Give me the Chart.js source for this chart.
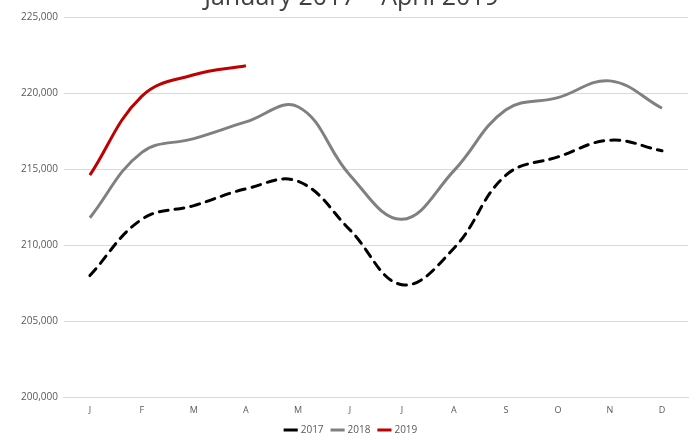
<!DOCTYPE html>
<html>
<head>
<meta charset="utf-8">
<script src="https://cdn.jsdelivr.net/npm/chart.js@4.4.1/dist/chart.umd.min.js"></script>
<style>
  html, body { margin: 0; padding: 0; background: #fff; overflow: hidden; }
  #wrap { position: absolute; left: 0; top: -22px; width: 692px; height: 467px; }
</style>
</head>
<body>
<div id="wrap"><canvas id="chart"></canvas></div>
<script>
const months = ["J", "F", "M", "A", "M", "J", "J", "A", "S", "O", "N", "D"];
const sales2017 = [208000, 211700, 212600, 213700, 214200, 211000, 207400, 209800, 214600, 215800, 216900, 216200];
const sales2018 = [211800, 216100, 217000, 218100, 219100, 214600, 211700, 214900, 218900, 219700, 220800, 219000];
const sales2019 = [214600, 219800, 221200, 221800];

var ctx = document.getElementById("chart").getContext("2d");
var myChart = new Chart(ctx, {
  type: "line",
  data: {
    labels: months,
    datasets: [
      {
        label: "2017",
        data: sales2017,
        borderColor: "#000000",
        backgroundColor: "#000000",
        borderWidth: 3,
        borderDash: [9, 7],
        borderCapStyle: "round",
        pointRadius: 0,
        tension: 0.4,
      },
      {
        label: "2018",
        data: sales2018,
        borderColor: "#808080",
        backgroundColor: "#808080",
        borderWidth: 3,
        pointRadius: 0,
        tension: 0.4,
      },
      {
        label: "2019",
        data: sales2019,
        borderColor: "#c00000",
        backgroundColor: "#c00000",
        borderWidth: 3,
        pointRadius: 0,
        tension: 0.4,
      },
    ],
  },
  options: {
    responsive: true,
    maintainAspectRatio: false,
    animation: false,
    layout: { padding: { left: 15, right: 4, top: 0, bottom: 0 } },
    plugins: {
      title: {
        display: true,
        text: "January 2017 – April 2019",
        color: "#404040",
        font: { family: "Open Sans", size: 25, weight: "normal" },
        padding: { top: 5, bottom: 4 },
      },
      legend: {
        position: "bottom",
        labels: {
          usePointStyle: true,
          pointStyle: "line",
          boxWidth: 30,
          padding: 9,
          color: "#595959",
          font: { family: "Open Sans", size: 10 },
        },
      },
      tooltip: { enabled: false },
    },
    scales: {
      y: {
        min: 200000,
        max: 225000,
        ticks: {
          stepSize: 5000,
          color: "#595959",
          font: { family: "Open Sans", size: 10 },
          padding: 6,
          callback: function (v) { return v.toLocaleString("en-US"); },
        },
        grid: { color: "#d9d9d9", drawTicks: false },
        border: { display: false },
      },
      x: {
        offset: true,
        ticks: {
          color: "#595959",
          font: { family: "Open Sans", size: 9 },
          padding: 0,
        },
        grid: { display: false },
        border: { color: "#d9d9d9" },
      },
    },
  },
});
</script>
</body>
</html>
